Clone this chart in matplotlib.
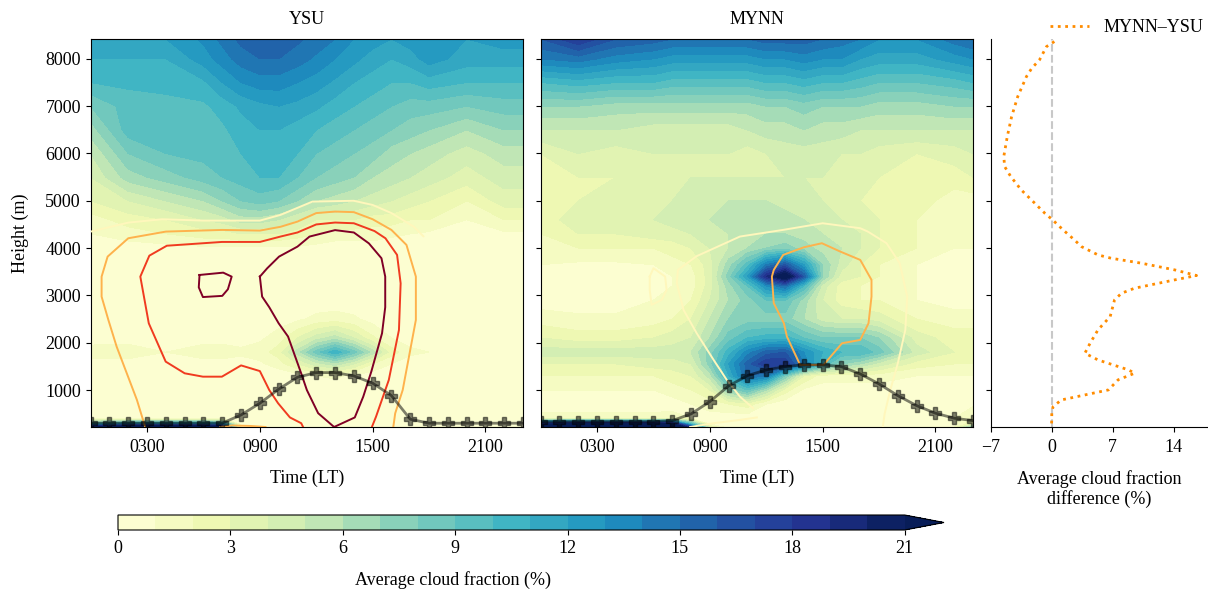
import numpy as np
import matplotlib
matplotlib.use("Agg")
import matplotlib.pyplot as plt

plt.rcParams['font.family'] = ['Liberation Serif', 'DejaVu Serif']
plt.rcParams['font.size'] = 13

# ---------------- data ----------------
hours = [0, 1, 2, 3, 4, 5, 6, 7, 8, 9, 10, 11, 12, 13, 14, 15, 16, 17, 18, 19, 20, 21, 22, 23]
pbl_ysu = [298, 298, 298, 298, 298, 298, 298, 300, 473, 720, 1017, 1270, 1368, 1368, 1298, 1144,
           882, 383, 298, 298, 298, 298, 298, 298]
pbl_mynn = [332, 332, 332, 332, 332, 332, 332, 353, 495, 755, 1087, 1305, 1425, 1495, 1531, 1531,
            1495, 1340, 1129, 882, 670, 510, 404, 353]

grid_time = [0, 2, 4, 6, 7, 8, 9, 10, 11, 12, 13, 14, 15, 16, 17, 18, 20, 22, 23]
grid_height = [218, 280, 400, 700, 1000, 1300, 1550, 1800, 2100, 2500, 2900, 3200, 3400, 3650,
               4000, 4300, 4600, 5000, 5500, 6000, 6500, 7000, 7500, 8000, 8420]

# YSU average cloud fraction (%), one row per height in grid_height
cf_ysu = [
    [23, 26, 26, 26, 24, 1, 0.3, 0.3, 0.3, 0.3, 0.3, 0.3, 0.3, 0.3, 0.3, 0.3, 0.3, 0.3, 0.3],
    [10, 13, 13, 13, 12, 0.5, 0.3, 0.3, 0.3, 0.3, 0.3, 0.3, 0.3, 0.3, 0.3, 0.3, 0.3, 0.3, 0.3],
    [0.2, 0.2, 0.2, 0.2, 0.2, 0.3, 0.3, 0.3, 0.3, 0.3, 0.3, 0.3, 0.3, 0.3, 0.3, 0.3, 0.3, 0.3, 0.3],
    [0.3, 0.3, 0.3, 0.3, 0.3, 0.3, 0.3, 0.3, 0.3, 0.3, 0.3, 0.3, 0.3, 0.3, 0.3, 0.3, 0.3, 0.3, 0.3],
    [0.3, 0.3, 0.3, 0.3, 0.3, 0.3, 0.3, 0.3, 0.3, 0.3, 0.3, 0.3, 0.3, 0.3, 0.3, 0.3, 0.3, 0.3, 0.3],
    [0.3, 0.3, 0.3, 0.3, 0.3, 0.3, 0.3, 0.3, 0.5, 1.0, 1.2, 0.8, 0.4, 0.3, 0.3, 0.3, 0.3, 0.3, 0.3],
    [0.8, 0.6, 0.4, 0.6, 0.6, 0.6, 0.8, 1.5, 3.0, 4.5, 5.5, 4.0, 2.0, 1.0, 0.5, 0.4, 0.3, 0.3, 0.3],
    [1.2, 1.5, 1.0, 1.5, 1.5, 1.2, 1.5, 2.5, 5.5, 8.5, 10.8, 8.5, 5.5, 2.5, 1.2, 1.0, 0.5, 0.5, 0.5],
    [0.8, 0.6, 0.5, 0.6, 0.6, 0.6, 0.8, 1.5, 3.0, 4.5, 5.5, 4.0, 2.2, 1.0, 0.6, 0.5, 0.3, 0.3, 0.3],
    [0.4, 0.4, 0.4, 0.4, 0.4, 0.4, 0.4, 0.5, 0.8, 1.3, 1.5, 1.2, 0.6, 0.4, 0.3, 0.3, 0.3, 0.3, 0.3],
    [0.3, 0.3, 0.3, 0.3, 0.3, 0.3, 0.3, 0.3, 0.3, 0.3, 0.3, 0.3, 0.3, 0.3, 0.3, 0.3, 0.3, 0.3, 0.3],
    [0.3, 0.3, 0.3, 0.3, 0.3, 0.3, 0.3, 0.3, 0.3, 0.3, 0.3, 0.3, 0.3, 0.3, 0.3, 0.3, 0.3, 0.3, 0.3],
    [0.3, 0.3, 0.3, 0.3, 0.3, 0.3, 0.3, 0.3, 0.3, 0.3, 0.3, 0.3, 0.3, 0.3, 0.3, 0.3, 0.3, 0.3, 0.3],
    [0.3, 0.3, 0.3, 0.3, 0.3, 0.3, 0.3, 0.3, 0.3, 0.3, 0.3, 0.3, 0.3, 0.3, 0.3, 0.3, 0.3, 0.3, 0.3],
    [0.4, 0.5, 0.6, 0.8, 0.8, 0.8, 0.8, 0.8, 0.8, 0.6, 0.5, 0.5, 0.5, 0.4, 0.4, 0.3, 0.3, 0.3, 0.3],
    [1.0, 1.5, 2.0, 2.5, 2.5, 3.0, 3.0, 3.0, 2.5, 2.0, 1.5, 1.5, 1.5, 1.2, 1.0, 0.8, 0.5, 0.8, 0.8],
    [1.5, 2.5, 3.0, 4.0, 4.5, 5.5, 5.5, 5.0, 4.0, 3.0, 3.0, 3.0, 2.5, 2.5, 2.0, 2.0, 1.0, 2.0, 2.0],
    [3.0, 4.0, 5.0, 6.0, 7.0, 8.0, 8.5, 8.0, 7.0, 6.0, 5.5, 5.0, 4.5, 4.0, 3.5, 3.0, 2.0, 3.5, 3.5],
    [4.0, 6.5, 7.5, 8.5, 9.0, 9.5, 10, 10, 9.0, 8.0, 7.5, 7.0, 6.0, 5.5, 5.0, 4.5, 3.5, 4.5, 4.5],
    [5.0, 8.0, 9.0, 9.3, 9.6, 10, 10.5, 10.5, 10, 9.0, 8.5, 8.0, 7.5, 6.5, 6.0, 5.5, 4.5, 5.5, 5.5],
    [6.5, 9.5, 9.5, 9.5, 9.8, 10.5, 11, 11, 10.5, 10, 9.5, 9.0, 8.5, 8.0, 7.5, 7.0, 6.0, 7.0, 7.0],
    [8.0, 9.5, 9.8, 9.8, 10.4, 11.2, 11.7, 12, 11.7, 11.2, 10.5, 10, 9.5, 9.0, 8.5, 8.5, 8.0, 8.5, 8.5],
    [10, 10.2, 10.2, 10.8, 12, 13, 13.5, 13.5, 13, 12.5, 11.8, 11, 10.5, 10, 10, 10.5, 10, 10, 10],
    [11, 11, 11, 12.5, 13.5, 14.5, 15, 15, 14.5, 13.8, 13, 12.3, 11.5, 11, 11.5, 12.5, 11.5, 11.5, 11.5],
    [12, 12, 12, 13.2, 14.3, 15.3, 15.6, 15.6, 15.2, 14.6, 14, 13, 12.5, 12, 12.5, 13, 12, 12.5, 12.5],
]

# MYNN average cloud fraction (%), one row per height in grid_height
cf_mynn = [
    [26, 26, 26, 26, 26, 18, 3, 0.3, 0.3, 0.3, 0.3, 0.3, 0.3, 0.3, 0.3, 0.3, 0.3, 1, 7],
    [20, 22, 22, 22, 22, 10, 1, 0.3, 0.3, 0.3, 0.3, 0.3, 0.3, 0.3, 0.3, 0.3, 0.3, 0.5, 3],
    [1.5, 1.5, 1.5, 1.5, 1.5, 1, 0.5, 0.3, 0.3, 0.3, 0.3, 0.3, 0.3, 0.3, 0.3, 0.3, 0.3, 1, 2],
    [0.3, 0.3, 0.3, 0.3, 0.5, 1, 1.5, 2, 2.5, 1, 0.3, 0.3, 0.3, 0.3, 0.3, 0.3, 0.3, 0.3, 0.8],
    [1, 1, 1, 1, 1.5, 2, 3, 7, 9, 6, 2.5, 0.8, 0.5, 0.5, 0.5, 0.5, 0.3, 0.3, 0.5],
    [2, 2, 2, 2, 2.5, 3, 5.5, 11, 15, 14, 8, 3, 1.5, 1.5, 1.5, 1.5, 1, 1, 1],
    [3, 3, 3, 3.5, 3.5, 4, 7.5, 12, 15.5, 18, 18, 14, 10, 7, 6, 4.5, 2.5, 2, 2],
    [4.5, 4.5, 4.5, 4.5, 4.5, 5, 7.5, 10.5, 13.5, 15.5, 16, 13, 11, 10, 10, 8.5, 4.5, 3, 3],
    [3, 2.5, 2.5, 3, 3.5, 4, 6, 8.5, 10, 10.5, 10.5, 9, 8, 8, 8, 7, 3.5, 2.5, 2.5],
    [1.5, 1.2, 1.2, 1.5, 2, 3, 5, 7, 7.5, 7.5, 7.5, 6, 4.5, 4, 4, 3.5, 2, 1.5, 1.5],
    [0.5, 0.5, 0.5, 1, 1.5, 2, 4, 6, 7.5, 9, 9, 6.5, 4, 2.5, 2, 2, 1, 0.5, 0.5],
    [0.5, 0.3, 0.3, 0.5, 1, 1.5, 3.5, 6.5, 9, 13, 15, 10, 4.5, 2.5, 2, 2, 1, 0.4, 0.4],
    [0.5, 0.3, 0.3, 0.5, 1, 1.5, 3.5, 7.5, 12, 19, 23, 16, 7, 3.5, 3, 2, 1, 0.4, 0.4],
    [1, 0.8, 0.8, 1, 1.5, 2, 3.5, 6.5, 9.5, 14, 16, 12, 7, 4.5, 3, 2, 1, 0.5, 0.5],
    [2, 2, 2, 2, 2.5, 3, 4, 5, 6, 7, 7.5, 6.5, 5.5, 5, 4, 3, 2, 1, 1],
    [2, 3, 3, 3.5, 3.5, 4, 4.5, 5, 6, 6, 6, 5.5, 5, 4.5, 4, 3, 2, 1.5, 1.5],
    [2, 4, 4, 4, 4.5, 5, 5, 5.5, 5.5, 5.5, 5.5, 5, 5, 4, 3.5, 3, 2, 1.5, 1.5],
    [2, 3, 3.5, 4, 4, 4.5, 5, 5, 5, 5, 4.5, 4.5, 4, 3.5, 3, 3, 2.5, 1.5, 1.5],
    [2.5, 3, 3, 4, 4, 4, 4, 4, 4, 4, 4, 4, 4, 3.5, 3.5, 3, 2.5, 2.5, 3],
    [3, 4, 3.5, 4, 4, 4, 4, 4, 3.5, 4, 4.5, 4.5, 4.5, 4, 4, 3.5, 3, 3.5, 4],
    [5, 5, 5, 4.5, 4.5, 4.5, 4.5, 4.5, 5, 5.5, 5.5, 6, 5.5, 5.5, 5, 5, 5, 5, 5],
    [7, 7, 6.5, 6.5, 6.5, 6.5, 6.5, 6.5, 6.5, 7, 7, 7.5, 7, 7, 7, 6.5, 6.5, 7, 7],
    [10, 10.5, 10, 10, 9.5, 9.5, 9.5, 9.5, 9.5, 10, 10, 10.5, 10, 10, 9.5, 9, 9, 9.5, 10],
    [14, 14.5, 13.5, 13, 12.5, 12.5, 12.5, 12.5, 12.5, 13, 13, 13.5, 13, 13, 12, 11.5, 11.5, 12.5, 13],
    [16, 18, 16, 15.5, 15, 15, 15, 15, 15, 15.5, 15.5, 15.5, 15, 14.5, 14, 13, 13, 14.5, 15],
]

# contour lines of the overlaid field (time in hours, height in m)
ysu_c1_t = [0, 2, 3.8, 6, 9, 10.1, 11.8, 14.0, 15.0, 16.0, 17.2, 17.7]
ysu_c1_h = [4349, 4539, 4610, 4581, 4581, 4702, 4983, 5000, 4912, 4740, 4450, 4250]
ysu_c2_t = [2.9, 2.46, 1.92, 1.38, 0.94, 0.58, 0.58, 0.9, 2, 4, 7, 9, 10.1, 11, 12, 13, 14, 15,
            16, 16.8, 17.3, 17.3, 16.9, 16.6, 16.2, 16.1]
ysu_c2_h = [218, 789, 1353, 1917, 2481, 2974, 3397, 3820, 4208, 4349, 4384, 4370, 4450, 4560,
            4740, 4772, 4760, 4610, 4384, 4067, 3397, 2481, 1635, 1000, 507, 218]
ysu_c2b_t = [6.9, 7.5, 8.5, 9.3]
ysu_c2b_h = [218, 250, 240, 218]
ysu_c3_t = [11.3, 11.2, 10.6, 9.97, 9.5, 9.0, 8.0, 6.98, 5.97, 5.0, 3.99, 3.09, 2.64, 3.12, 4.05,
            6.98, 9.0, 10.1, 11.0, 12.0, 13.0, 14.0, 15.1, 15.68, 16.3, 16.49, 16.4, 15.86, 15.18, 14.96]
ysu_c3_h = [218, 298, 420, 720, 1000, 1400, 1520, 1282, 1282, 1353, 1600, 2410, 3397, 3840, 4050,
            4130, 4130, 4244, 4330, 4500, 4540, 4525, 4360, 4208, 3856, 3256, 2269, 1212, 436, 218]
ysu_c4a_t = [5.79, 7.05, 7.5, 7.3, 7.0, 5.97, 5.75, 5.79]
ysu_c4a_h = [3432, 3481, 3397, 3130, 2990, 2965, 3170, 3432]
ysu_c4b_t = [9.0, 9.39, 10.02, 11.0, 11.64, 13.0, 14.0, 14.8, 15.47, 15.67, 15.67, 15.5, 14.93,
             14.5, 14.05, 12.95, 12.1, 11.5, 11.2, 10.5, 10.0, 9.5, 9.12, 9.0]
ysu_c4b_h = [3397, 3573, 3820, 4031, 4243, 4380, 4330, 4100, 3785, 3397, 2750, 2199, 1390,
             859, 420, 218, 510, 1000, 1350, 2130, 2410, 2750, 2974, 3397]

mynn_c1_t = [11.3, 10.6, 9.9, 9.2, 8.3, 7.6, 7.24, 7.3, 8.3, 10.6, 12.9, 15.0, 17.0, 17.4, 18.4,
             19.1, 19.5, 19.4, 19.0, 18.6, 18.3, 18.2]
mynn_c1_h = [615, 860, 1213, 1636, 2200, 2693, 3258, 3540, 3830, 4244, 4385, 4525, 4420, 4350,
             4103, 3680, 2975, 2270, 1565, 1000, 500, 218]
mynn_c1b_t = [7.95, 9.2, 10.6, 11.5]
mynn_c1b_h = [218, 298, 368, 420]
mynn_c1c_t = [5.8, 6.0, 6.62, 6.7, 6.44, 5.9, 5.8, 5.8]
mynn_c1c_h = [3398, 3575, 3398, 3116, 2905, 2800, 3116, 3398]
mynn_c2_t = [13.8, 13.1, 12.94, 12.4, 12.3, 12.4, 12.9, 14.0, 14.96, 15.94, 17.0, 17.6, 17.6,
             17.44, 17.0, 16.03, 15.05, 13.8]
mynn_c2_h = [1531, 2130, 2410, 2835, 3397, 3538, 3856, 4017, 4103, 3926, 3750, 3328, 2975,
             2410, 2059, 1988, 1531, 1531]

diff_height = [8366, 8260, 7980, 7800, 7626, 7203, 6780, 6357, 5935, 5723, 5512, 5230, 4949,
               4738, 4596, 4385, 4173, 4032, 3856, 3786, 3680, 3539, 3420, 3328, 3152, 3046,
               2905, 2553, 2271, 1990, 1778, 1636, 1425, 1355, 1214, 1002, 896, 790, 649, 510,
               360, 226]
diff_value = [0.3, -0.6, -1.4, -2.3, -2.9, -3.9, -4.6, -5.1, -5.5, -5.4, -4.7, -3.5, -1.95,
              -0.8, 0.1, 1.3, 2.6, 3.4, 5.3, 6.8, 10.3, 14.1, 16.6, 14.1, 9.5, 8.0, 7.2, 6.7,
              5.3, 4.4, 3.8, 5.3, 8.8, 9.5, 7.6, 6.5, 3.8, 1.1, 0.15, 0.0, 0.0, -0.05]

cf_levels = [0, 1, 2, 3, 4, 5, 6, 7, 8, 9, 10, 11, 12, 13, 14, 15, 16, 17, 18, 19, 20, 21]
cbar_ticks = [0, 3, 6, 9, 12, 15, 18, 21]
time_ticks = [3, 9, 15, 21]
time_labels = ['0300', '0900', '1500', '2100']
height_ticks = [1000, 2000, 3000, 4000, 5000, 6000, 7000, 8000]
diff_ticks = [-7, 0, 7, 14]

# contour line colours
c_cream = '#fff7bc'
c_orange = '#feb24c'
c_red = '#f03b20'
c_dark = '#800026'

# ---------------- figure ----------------
W, H = 1208, 592
fig = plt.figure(figsize=(W / 100, H / 100), dpi=100)

def fa(x0, y0, x1, y1):
    return [x0 / W, 1 - y1 / H, (x1 - x0) / W, (y1 - y0) / H]

ax1 = fig.add_axes(fa(90.7, 39, 523, 427))
ax2 = fig.add_axes(fa(540.7, 39, 973, 427))
ax3 = fig.add_axes(fa(990.7, 39, 1207, 427))
cax = fig.add_axes(fa(118, 515, 944, 530))

ylim = (218, 8420)

def panel(ax, cf, pbl, lines, title):
    cs = ax.contourf(grid_time, grid_height, np.array(cf), levels=cf_levels,
                     cmap='YlGnBu', extend='max')
    for t, h, c in lines:
        ax.plot(t, h, color=c, lw=1.4, zorder=3)
    ax.plot(hours, pbl, color='k', alpha=0.5, lw=2, marker='P', ms=8, zorder=4)
    ax.set_xlim(0, 23)
    ax.set_ylim(*ylim)
    ax.set_xticks(time_ticks)
    ax.set_xticklabels(time_labels)
    ax.set_yticks(height_ticks)
    ax.tick_params(axis='x', pad=5)
    ax.set_xlabel('Time (LT)', labelpad=10)
    ax.set_title(title, fontsize=13, pad=11)
    return cs

cs = panel(ax1, cf_ysu, pbl_ysu,
           [(ysu_c1_t, ysu_c1_h, c_cream), (ysu_c2_t, ysu_c2_h, c_orange),
            (ysu_c2b_t, ysu_c2b_h, c_orange), (ysu_c3_t, ysu_c3_h, c_red),
            (ysu_c4a_t, ysu_c4a_h, c_dark), (ysu_c4b_t, ysu_c4b_h, c_dark)], 'YSU')
panel(ax2, cf_mynn, pbl_mynn,
      [(mynn_c1_t, mynn_c1_h, c_cream), (mynn_c1b_t, mynn_c1b_h, c_cream),
       (mynn_c1c_t, mynn_c1c_h, c_cream), (mynn_c2_t, mynn_c2_h, c_orange)], 'MYNN')
ax1.set_ylabel('Height (m)', labelpad=12)
ax2.set_yticklabels([])

# difference profile
ax3.axvline(0, color='#c8c8c8', ls='--', lw=1.5, zorder=1)
ax3.plot(diff_value, diff_height, ls=':', color='#ff8c00', lw=2, label='MYNN\u2013YSU', zorder=2)
ax3.set_xlim(-7, 17.8)
ax3.set_ylim(*ylim)
ax3.set_xticks(diff_ticks)
ax3.set_yticks(height_ticks)
ax3.set_yticklabels([])
ax3.tick_params(axis='x', pad=5)
ax3.spines['top'].set_visible(False)
ax3.spines['right'].set_visible(False)
ax3.set_xlabel('Average cloud fraction\ndifference (%)', labelpad=10)
ax3.legend(loc='center right', bbox_to_anchor=(1.035, 1.03), frameon=False,
           handlelength=2.2, borderaxespad=0.2)

cb = fig.colorbar(cs, cax=cax, orientation='horizontal', ticks=cbar_ticks)
cb.set_label('Average cloud fraction (%)')
cb.ax.xaxis.set_label_coords(0.426, -2.75)

fig.savefig('out.png', dpi=100)
